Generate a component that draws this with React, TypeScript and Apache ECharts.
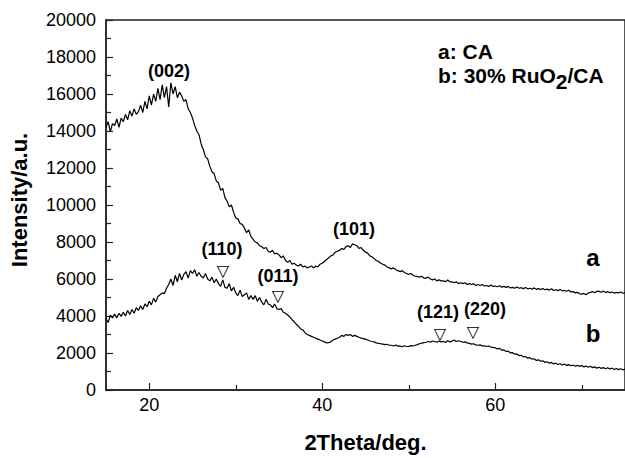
import React, { useEffect, useRef } from "react";
import * as echarts from "echarts";

// 2Theta grid (deg)
const thetaStart = 15;
const thetaStep = 0.25;

// a: CA
const intensityCA = [
  14200, 14500, 13950, 14400,
  14300, 14650, 14200, 14700,
  14500, 14900, 14600, 15100,
  14800, 15200, 14900, 15050,
  15400, 15000, 15600, 15200,
  15900, 15400, 16000, 15600,
  16300, 15700, 16500, 15800,
  16400, 15300, 16600, 16000,
  16400, 15800, 16100, 15900,
  15600, 15700, 15200, 15000,
  14700, 14300, 14000, 13800,
  13300, 13000, 12600, 12500,
  12100, 11800, 11700, 11300,
  11200, 10800, 10900, 10400,
  10200, 9900, 10000, 9600,
  9300, 9250, 9000, 8950,
  8750, 8500, 8650, 8300,
  8150, 8000, 7950, 7800,
  7750, 7650, 7700, 7500,
  7450, 7550, 7350, 7400,
  7300, 7150, 7250, 7000,
  6900, 7000, 6800, 6850,
  6750, 6700, 6800, 6650,
  6700, 6600, 6650, 6700,
  6600, 6700, 6650, 6800,
  6850, 6950, 7050, 7150,
  7250, 7300, 7450, 7500,
  7550, 7650, 7600, 7750,
  7800, 7700, 7900, 7850,
  7800, 7650, 7700, 7550,
  7450, 7400, 7250, 7200,
  7100, 7000, 6950, 6850,
  6800, 6750, 6650, 6600,
  6550, 6600, 6500, 6450,
  6400, 6450, 6350, 6300,
  6250, 6300, 6200, 6150,
  6150, 6100, 6150, 6050,
  6050, 6100, 6000, 5950,
  6000, 5900, 5950, 5900,
  5900, 5850, 5950, 5850,
  5850, 5800, 5850, 5750,
  5800, 5750, 5800, 5700,
  5750, 5700, 5750, 5650,
  5700, 5650, 5700, 5620,
  5650, 5600, 5680, 5600,
  5620, 5580, 5640, 5560,
  5600, 5550, 5600, 5520,
  5550, 5500, 5570, 5500,
  5530, 5480, 5540, 5470,
  5500, 5450, 5520, 5440,
  5480, 5430, 5490, 5420,
  5450, 5400, 5470, 5380,
  5420, 5370, 5430, 5360,
  5380, 5340, 5390, 5300,
  5320, 5250, 5280, 5200,
  5180, 5220, 5150, 5250,
  5280, 5320, 5260, 5340,
  5330, 5280, 5350, 5270,
  5320, 5260, 5300, 5240,
  5280, 5250, 5300, 5230,
  5270,
];

// b: 30% RuO2/CA
const intensityRuO2 = [
  3850, 3650, 4050, 3900,
  4100, 3900, 4150, 3980,
  4200, 4000, 4300, 4080,
  4350, 4150, 4450, 4300,
  4550, 4350, 4650, 4500,
  4800, 4600, 4950, 4750,
  5050, 5150, 5250, 5200,
  5500, 5700, 6000, 5650,
  6200, 5850, 6300, 5950,
  6250, 6400, 6050, 6450,
  6300, 6500, 6150, 6350,
  6150, 6050, 6300, 6000,
  5900, 6100, 5800, 6000,
  5750, 5600, 5950, 5550,
  5500, 5750, 5350, 5550,
  5250, 5100, 5400, 5050,
  5150, 5250, 4900, 5100,
  4900, 5100, 4800, 5000,
  4750, 4600, 4900, 4650,
  4600, 4450, 4650, 4400,
  4350, 4400, 4200, 4150,
  4050, 3950, 3800, 3700,
  3550, 3450, 3300, 3250,
  3100, 3000, 2950, 2900,
  2850, 2800, 2750, 2700,
  2650, 2600, 2550, 2560,
  2600, 2700, 2750, 2800,
  2850, 2950, 2900, 3000,
  2950, 3000, 2900, 2950,
  2900, 2850, 2800, 2780,
  2750, 2700, 2650, 2620,
  2600, 2550, 2520, 2500,
  2480, 2450, 2470, 2420,
  2420, 2380, 2430, 2370,
  2380, 2340, 2390, 2350,
  2360, 2400, 2380, 2420,
  2450, 2500, 2530, 2560,
  2580, 2620, 2580, 2650,
  2620, 2580, 2650, 2600,
  2620, 2570, 2660, 2600,
  2640, 2700, 2620, 2660,
  2620, 2580, 2600, 2550,
  2520, 2480, 2500, 2440,
  2420, 2440, 2380, 2390,
  2350, 2380, 2320, 2300,
  2280, 2220, 2250, 2160,
  2170, 2080, 2100, 2010,
  2020, 1940, 1950, 1860,
  1880, 1790, 1810, 1720,
  1750, 1660, 1690, 1600,
  1630, 1550, 1580, 1490,
  1530, 1450, 1490, 1410,
  1450, 1380, 1420, 1350,
  1400, 1330, 1370, 1310,
  1350, 1280, 1330, 1280,
  1320, 1250, 1300, 1230,
  1280, 1210, 1250, 1180,
  1230, 1170, 1210, 1150,
  1200, 1140, 1180, 1110,
  1160, 1100, 1150, 1090,
  1130,
];

const xMajorTicks = [20, 40, 60];
const xMinorTicks = [30, 50, 70];

const FONT = "'Liberation Sans', Arial, Helvetica, sans-serif";

export default function App() {
  const ref = useRef<HTMLDivElement>(null);
  useEffect(() => {
    if (!ref.current) return;
    const chart = echarts.init(ref.current, undefined, { renderer: "svg" });
    const toPairs = (arr: number[]) => arr.map((v, i) => [thetaStart + i * thetaStep, v]);
    const ann = (text: string, x: number, y: number, size = 18) => ({
      type: "text",
      x,
      y,
      style: {
        text,
        font: `bold ${size}px ${FONT}`,
        fill: "#000",
        textAlign: "center",
        textVerticalAlign: "middle",
      },
    });
    const tri = (x: number, y: number) => ({
      type: "text",
      x,
      y,
      style: {
        text: "▽",
        font: `16px 'DejaVu Sans', sans-serif`,
        fill: "#000",
        textAlign: "center",
        textVerticalAlign: "middle",
      },
    });
    chart.setOption({
      animation: false,
      backgroundColor: "#fff",
      grid: {
        left: 106,
        top: 20,
        right: -2,
        bottom: 60,
        show: true,
        borderColor: "#222",
        borderWidth: 1.5,
        backgroundColor: "transparent",
      },
      title: {
        left: 433,
        top: 36,
        text: "{n|a: CA}\n{n|b: 30% RuO}{s|2}{n|/CA}",
        textStyle: {
          rich: {
            n: { fontFamily: FONT, fontSize: 21, fontWeight: "bold", color: "#000", lineHeight: 24, verticalAlign: "top" },
            s: { fontFamily: FONT, fontSize: 21, fontWeight: "bold", color: "#000", lineHeight: 24, verticalAlign: "top", padding: [6, 0, 0, 0] },
          },
        },
      },
      xAxis: [
        {
          type: "value",
          min: 15,
          max: 75,
          name: "2Theta/deg.",
          nameLocation: "middle",
          nameGap: 41,
          nameTextStyle: { fontFamily: FONT, fontSize: 22, fontWeight: "bold", color: "#000" },
          axisLine: { show: true, lineStyle: { color: "#222", width: 1.5 } },
          axisTick: { show: true, inside: true, length: 7, customValues: xMajorTicks, lineStyle: { color: "#222", width: 1.2 } },
          axisLabel: { customValues: xMajorTicks, fontFamily: FONT, fontSize: 18, color: "#000", margin: 6 },
          splitLine: { show: false },
        },
        {
          type: "value",
          min: 15,
          max: 75,
          position: "bottom",
          axisLine: { show: false },
          axisTick: { show: true, inside: true, length: 5, customValues: xMinorTicks, lineStyle: { color: "#222", width: 1.2 } },
          axisLabel: { show: false },
          splitLine: { show: false },
        },
      ],
      yAxis: {
        type: "value",
        min: 0,
        max: 20000,
        interval: 2000,
        name: "Intensity/a.u.",
        nameLocation: "middle",
        nameGap: 76,
        nameRotate: 90,
        nameTextStyle: { fontFamily: FONT, fontSize: 22, fontWeight: "bold", color: "#000", padding: [0, 0, 0, 10] },
        axisLine: { show: true, lineStyle: { color: "#222", width: 1.5 } },
        axisTick: { show: true, inside: true, length: 7, lineStyle: { color: "#222", width: 1.2 } },
        minorTick: { show: true, splitNumber: 2, length: 5, lineStyle: { color: "#222", width: 1.2 } },
        axisLabel: { fontFamily: FONT, fontSize: 18, color: "#000", margin: 10, formatter: (v: number) => String(v) },
        splitLine: { show: false },
      },
      series: [
        {
          name: "a: CA",
          type: "line",
          data: toPairs(intensityCA),
          showSymbol: false,
          lineStyle: { color: "#000", width: 1.2 },
        },
        {
          name: "b: 30% RuO2/CA",
          type: "line",
          data: toPairs(intensityRuO2),
          showSymbol: false,
          lineStyle: { color: "#000", width: 1.2 },
        },
      ],
      graphic: [
        ann("(002)", 169, 71),
        ann("(110)", 222, 249),
        tri(223, 270),
        ann("(011)", 278, 276),
        tri(278, 295),
        ann("(101)", 354, 229),
        ann("(121)", 438, 312),
        tri(440, 333),
        ann("(220)", 485, 309),
        tri(473, 331),
        ann("a", 593, 257, 24),
        ann("b", 593, 333, 24),
      ],
    });
    return () => chart.dispose();
  }, []);
  return (
    <div
      ref={ref}
      style={{ position: "fixed", left: 0, top: 0, width: 625, height: 458 }}
    />
  );
}
